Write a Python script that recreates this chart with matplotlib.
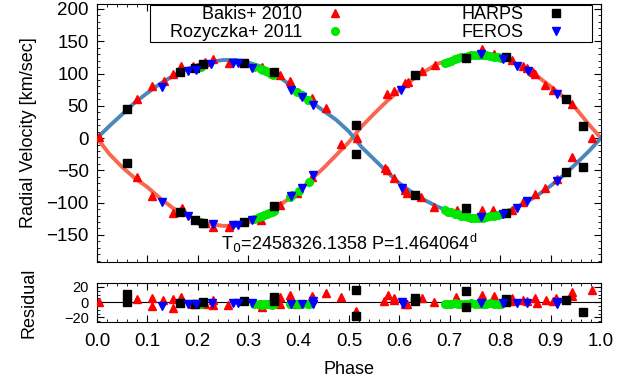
import numpy as np
import matplotlib.pyplot as plt
from matplotlib.ticker import MultipleLocator
from matplotlib.patches import Rectangle

plt.rcParams['font.family'] = ['Liberation Sans', 'DejaVu Sans']

# model curves, read every 0.025 in phase
curve_phase = [0.0, 0.025, 0.05, 0.075, 0.1, 0.125, 0.15, 0.175, 0.2, 0.225, 0.25, 0.275, 0.3,
               0.325, 0.35, 0.375, 0.4, 0.425, 0.45, 0.475, 0.5, 0.525, 0.55, 0.575, 0.6, 0.625,
               0.65, 0.675, 0.7, 0.725, 0.75, 0.775, 0.8, 0.825, 0.85, 0.875, 0.9, 0.925, 0.95,
               0.975, 1.0]
curve_a = [0, 19, 37, 55, 70, 84, 96, 106, 113, 118, 121, 121, 117, 111, 102, 87, 71, 56, 42,
           28, 10, -14, -33, -52, -70, -84, -96, -106, -114, -119, -121, -120, -116, -110, -100,
           -88, -74, -58, -40, -21, 0]
curve_b = [0, -25, -45, -62, -76, -93, -108, -119, -127, -133, -136, -136, -131, -122, -110,
           -97, -82, -64, -46, -26, -6, 18, 38, 57, 74, 90, 103, 115, 121, 127, 130, 130, 126,
           118, 107, 95, 80, 64, 46, 22, 0]

# Bakis+ 2010
bakis_ph_a = [0.003, 0.079, 0.110, 0.132, 0.150, 0.166, 0.191, 0.214, 0.231, 0.261, 0.327, 0.363,
              0.383, 0.426, 0.454, 0.571, 0.576, 0.589, 0.611, 0.616, 0.643, 0.669, 0.714, 0.763,
              0.786, 0.823, 0.846, 0.869, 0.889, 0.912, 0.942, 0.983]
bakis_rv_a = [1, 60, 81, 89, 100, 111, 112, 118, 122, 116, 110, 98, 88, 62, 46, -47, -50, -62,
              -81, -85, -91, -107, -112, -112, -112, -112, -99, -86, -77, -64, -29, 0]
bakis_ph_b = [0.079, 0.110, 0.150, 0.168, 0.214, 0.231, 0.261, 0.325, 0.363, 0.396, 0.427, 0.485,
              0.516, 0.576, 0.589, 0.611, 0.618, 0.644, 0.671, 0.763, 0.788, 0.823, 0.846, 0.853,
              0.866, 0.869, 0.889, 0.905, 0.943]
bakis_rv_b = [-60, -90, -116, -108, -132, -137, -138, -127, -104, -85, -60, -9, 0, 68, 73, 86,
              87, 104, 113, 138, 131, 121, 112, 108, 103, 99, 83, 75, 53]

# Rozyczka+ 2011
roz_ph_a = [0.207, 0.312, 0.325, 0.330, 0.335, 0.340, 0.345, 0.350, 0.396, 0.406, 0.418,
            0.690, 0.697, 0.703, 0.710, 0.717, 0.723, 0.730, 0.737, 0.743, 0.750, 0.757, 0.765,
            0.772, 0.780, 0.787, 0.795, 0.802]
roz_rv_a = [110, 110, 107, 105, 104, 102, 100, 97, 72, 67, 59,
            -112, -114, -115, -117, -118, -120, -121, -122, -123, -123, -123, -123, -122, -121,
            -120, -119, -118]
roz_ph_b = [0.207, 0.312, 0.322, 0.327, 0.332, 0.337, 0.342, 0.347, 0.352, 0.383, 0.386, 0.401,
            0.421, 0.690, 0.697, 0.703, 0.710, 0.717, 0.723, 0.730, 0.737, 0.743, 0.750, 0.757,
            0.765, 0.772, 0.780, 0.787, 0.795, 0.802]
roz_rv_b = [-130, -125, -122, -121, -119, -118, -116, -115, -113, -92, -88, -82, -68,
            116, 118, 120, 122, 124, 125, 126, 127, 128, 128, 128, 128, 128, 127, 126, 125, 124]

# HARPS
harps_ph = [0.060, 0.165, 0.194, 0.210, 0.292, 0.352, 0.513, 0.630, 0.733, 0.811, 0.930, 0.965]
harps_rv_a = [45, 102, 108, 115, 117, 103, -25, -88, -109, -116, -52, -44]
harps_rv_b = [-39, -115, -127, -131, -130, -105, 20, 98, 124, 125, 60, 19]

# FEROS
feros_ph_a = [0.128, 0.181, 0.196, 0.227, 0.270, 0.280, 0.308, 0.385, 0.407, 0.429,
              0.606, 0.761, 0.806, 0.833, 0.853, 0.912]
feros_rv_a = [79, 104, 106, 115, 117, 116, 109, 74, 64, 51, -77, -122, -118, -109, -98, -66]
feros_ph_b = [0.128, 0.181, 0.230, 0.270, 0.280, 0.308, 0.385, 0.406, 0.429,
              0.604, 0.761, 0.806, 0.833, 0.856, 0.912]
feros_rv_b = [-99, -121, -133, -135, -135, -127, -90, -77, -57, 75, 130, 122, 112, 104, 68]

# residuals
bakis_res_ph = [0.004, 0.079, 0.110, 0.110, 0.131, 0.150, 0.150, 0.167, 0.191, 0.214, 0.231,
                0.231, 0.259, 0.325, 0.327, 0.363, 0.363, 0.383, 0.396, 0.426, 0.428, 0.454,
                0.485, 0.514, 0.570, 0.577, 0.589, 0.590, 0.611, 0.616, 0.644, 0.669, 0.712,
                0.763, 0.788, 0.823, 0.823, 0.846, 0.853, 0.868, 0.872, 0.891, 0.905, 0.910,
                0.943, 0.943, 0.983]
bakis_res = [0, 4, 5, -5, 3, 4, -8, 7, -3, -2, 3, -4, -4, -2, -6, 7, -3, 9, -2, 8, 5, 12, 7, -12,
             1, 9, 6, 3, -2, -2, 5, 0, 7, 9, 8, 5, 1, 3, 1, 6, -1, 3, 2, 5, 13, 8, 16]
roz_res_ph = [0.207, 0.312, 0.322, 0.327, 0.332, 0.337, 0.342, 0.347, 0.352, 0.383, 0.386, 0.396,
              0.401, 0.406, 0.418, 0.421, 0.690, 0.697, 0.703, 0.710, 0.717, 0.723, 0.730, 0.737,
              0.743, 0.750, 0.757, 0.765, 0.772, 0.780, 0.787, 0.795, 0.802]
roz_res = [-3, -2, -3, -4, -3, -2, -3, -4, -3, -2, -3, -2, -3, -2, -3, -2,
           -2, -3, -2, -1, -2, -3, -2, -2, -1, -2, -3, -2, -2, -1, -2, -3, -2]
harps_res_ph = [0.060, 0.060, 0.165, 0.194, 0.211, 0.292, 0.352, 0.352, 0.514, 0.514, 0.630,
                0.630, 0.733, 0.733, 0.811, 0.811, 0.930, 0.965]
harps_res = [11, 0, -1, -3, 0, 1, 7, 2, 16, -18, 5, 1, 14, -6, 4, 0, 3, -13]
feros_res_ph = [0.128, 0.180, 0.196, 0.229, 0.270, 0.280, 0.307, 0.385, 0.406, 0.429, 0.429,
                0.606, 0.608, 0.761, 0.806, 0.833, 0.854, 0.912, 0.912]
feros_res = [-5, -3, -2, -1, -1, -1, -1, -2, -2, 2, -2, 0, -3, -1, -1, -1, -1, 0, -3]

fig = plt.figure(figsize=(6.34, 3.82), dpi=100)
ax = fig.add_axes([0.153, 0.314, 0.795, 0.676])
axr = fig.add_axes([0.153, 0.157, 0.795, 0.102])

ax.plot(curve_phase, curve_b, color='#f8674f', lw=2.8, zorder=2)
ax.plot(curve_phase, curve_a, color='#4a87bd', lw=2.8, zorder=2)

ax.plot(bakis_ph_a + bakis_ph_b, bakis_rv_a + bakis_rv_b, '^', color='red', ms=6,
        ls='none', label='Bakis+ 2010', zorder=3)
ax.plot(roz_ph_a + roz_ph_b, roz_rv_a + roz_rv_b, 'o', color='#00e600', ms=5.5,
        ls='none', label='Rozyczka+ 2011', zorder=3)
ax.plot(harps_ph + harps_ph, harps_rv_a + harps_rv_b, 's', color='black', ms=6,
        ls='none', label='HARPS', zorder=4)
ax.plot(feros_ph_a + feros_ph_b, feros_rv_a + feros_rv_b, 'v', color='blue', ms=6,
        ls='none', label='FEROS', zorder=4)

for a in (ax, axr):
    a.set_xlim(0, 1)
    a.xaxis.set_major_locator(MultipleLocator(0.1))
    a.xaxis.set_minor_locator(MultipleLocator(0.02))
    a.tick_params(which='both', direction='in', top=True, right=True, labelsize=13.5)
    a.tick_params(which='major', length=5)
    a.tick_params(which='minor', length=2.5)
    a.tick_params(axis='y', pad=6)

ax.set_ylim(-192, 208)
ax.yaxis.set_major_locator(MultipleLocator(50))
ax.yaxis.set_minor_locator(MultipleLocator(10))
ax.tick_params(axis='x', labelbottom=False)
ax.set_ylabel('Radial Velocity [km/sec]', fontsize=13)
ax.yaxis.set_label_coords(-0.119, 0.5)
ax.text(0.5, -163, 'T$_0$=2458326.1358 P=1.464064$^\\mathregular{d}$', ha='center',
        va='center', fontsize=13)

# legend box as in the original key
ax.add_patch(Rectangle((0.105, 0.853), 0.877, 0.143, transform=ax.transAxes, fill=True,
                       facecolor='white', edgecolor='black', lw=0.8, zorder=5))
leg = ax.legend(ncol=2, markerfirst=False, loc='upper left', bbox_to_anchor=(0.145, 0.99),
                fontsize=13, frameon=False, borderaxespad=0, borderpad=0,
                handletextpad=1.3, handlelength=1.0, labelspacing=0.05, columnspacing=6.5)
leg.set_zorder(6)

axr.axhline(0, color='black', lw=0.8, zorder=1)
axr.plot(bakis_res_ph, bakis_res, '^', color='red', ms=6, ls='none', zorder=3)
axr.plot(roz_res_ph, roz_res, 'o', color='#00e600', ms=5.5, ls='none', zorder=3)
axr.plot(harps_res_ph, harps_res, 's', color='black', ms=6, ls='none', zorder=4)
axr.plot(feros_res_ph, feros_res, 'v', color='blue', ms=6, ls='none', zorder=4)
axr.set_ylim(-26, 25)
axr.yaxis.set_major_locator(MultipleLocator(20))
axr.yaxis.set_minor_locator(MultipleLocator(5))
axr.tick_params(axis='y', labelsize=10.5)
axr.tick_params(axis='x', pad=8)
axr.set_xlabel('Phase', fontsize=13, labelpad=8)
axr.set_ylabel('Residual', fontsize=13)
axr.yaxis.set_label_coords(-0.119, 0.5)
axr.xaxis.set_major_formatter(plt.FuncFormatter(lambda v, p: f'{v:.1f}'))

fig.savefig('out.png', dpi=100)
